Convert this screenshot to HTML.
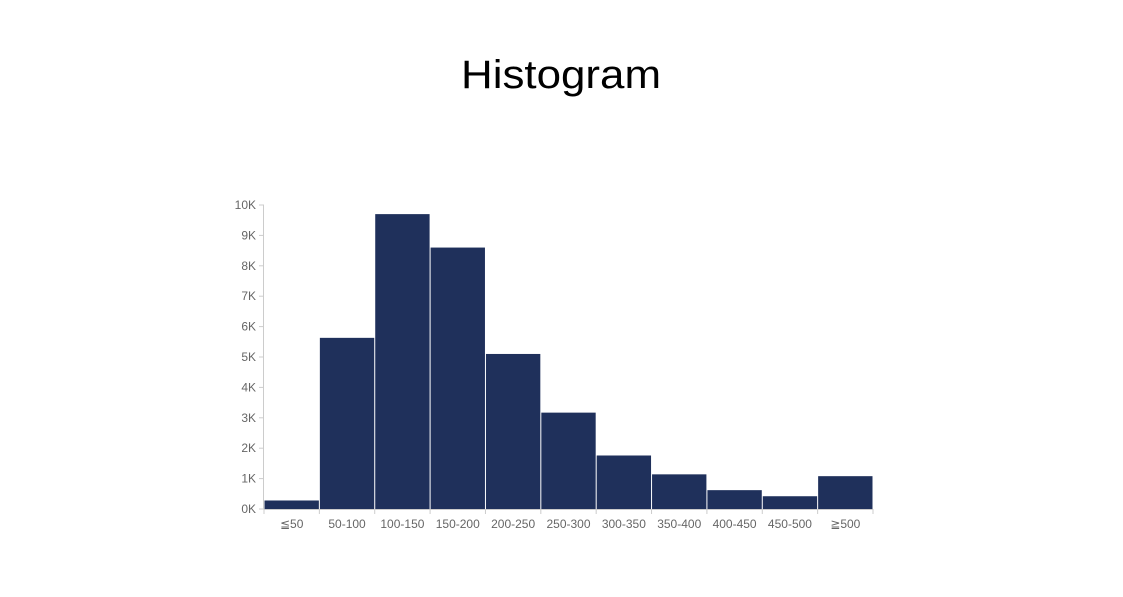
<!DOCTYPE html>
<html><head><meta charset="utf-8"><style>
body{margin:0;background:#fff;width:1123px;height:597px;overflow:hidden}
svg{display:block}
</style></head><body>
<svg id="chart" width="1123" height="597">
<text x="561" y="88" text-anchor="middle" font-family="Liberation Sans, sans-serif" font-size="40" fill="#000" textLength="200" lengthAdjust="spacingAndGlyphs">Histogram</text>
</svg>
<script>
const categories=["≦50","50-100","100-150","150-200","200-250","250-300","300-350","350-400","400-450","450-500","≧500"];
const values=[0.28,5.63,9.7,8.6,5.1,3.17,1.76,1.14,0.62,0.42,1.08];
const yTicks=[0,1,2,3,4,5,6,7,8,9,10];
const yTickLabels=["0K","1K","2K","3K","4K","5K","6K","7K","8K","9K","10K"];
const svg=document.getElementById('chart');
const NS='http://www.w3.org/2000/svg';
const x0=264,x1=873,y0=509,y1=205,yMax=10;
const bw=(x1-x0)/categories.length;
const xs=i=>x0+i*bw;
const ys=v=>y0-(v/yMax)*(y0-y1);
function mk(t,a){const e=document.createElementNS(NS,t);for(const k in a)e.setAttribute(k,a[k]);svg.appendChild(e);return e;}
values.forEach((v,i)=>{
 const r=mk('rect',{x:xs(i)+0.5,y:ys(v),width:bw-1,height:y0-ys(v),fill:'#1f305b'});
 
 
 const t=mk('text',{x:xs(i)+bw/2,y:528,'text-anchor':'middle','font-family':'Liberation Sans, DejaVu Sans, sans-serif','font-size':12,fill:'#666'});
 t.textContent=categories[i];
 
 
});
for(let i=0;i<=categories.length;i++){
 const l=mk('line',{x1:xs(i),x2:xs(i),y1:y0,y2:y0+5,stroke:'#ccc'});
 
 
}
const ax=mk('line',{x1:x0-0.5,x2:x0-0.5,y1:y1,y2:y0,stroke:'#ccc'});


const bx=mk('line',{x1:x0,x2:x1,y1:y0+0.5,y2:y0+0.5,stroke:'#ccc'});


yTicks.forEach((v,i)=>{
 const l=mk('line',{x1:x0-5,x2:x0,y1:ys(v),y2:ys(v),stroke:'#ccc'});
 
 
 const t=mk('text',{x:x0-8,y:ys(v)+4,'text-anchor':'end','font-family':'Liberation Sans, sans-serif','font-size':12,fill:'#666'});
 t.textContent=yTickLabels[i];
 
 
});
</script>
</body></html>
